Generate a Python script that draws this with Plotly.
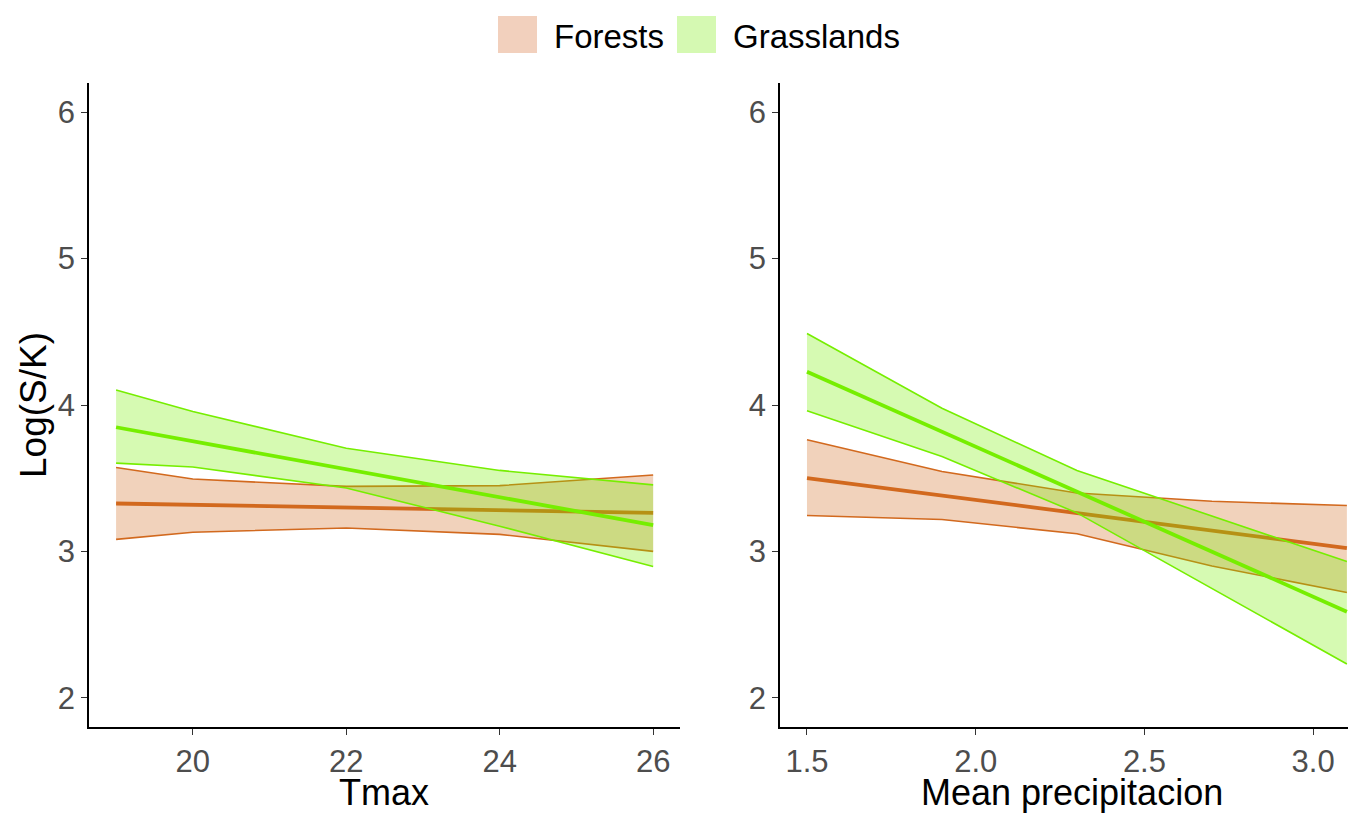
import plotly.graph_objects as go

# ---- data ----
tmax_x = [19, 20, 22, 24, 26]
tmax_forest_mean = [3.327, 3.318, 3.295, 3.279, 3.263]
tmax_forest_lo = [3.082, 3.131, 3.160, 3.116, 3.000]
tmax_forest_hi = [3.573, 3.494, 3.444, 3.449, 3.522]
tmax_grass_mean = [3.848, 3.752, 3.561, 3.370, 3.179]
tmax_grass_lo = [3.603, 3.576, 3.433, 3.172, 2.896]
tmax_grass_hi = [4.102, 3.955, 3.705, 3.553, 3.454]

prec_x = [1.5, 1.9, 2.3, 2.7, 3.1]
prec_forest_mean = [3.501, 3.381, 3.261, 3.142, 3.022]
prec_forest_lo = [3.245, 3.218, 3.120, 2.900, 2.719]
prec_forest_hi = [3.762, 3.546, 3.399, 3.342, 3.313]
prec_grass_mean = [4.227, 3.817, 3.407, 2.998, 2.588]
prec_grass_lo = [3.961, 3.648, 3.263, 2.746, 2.230]
prec_grass_hi = [4.488, 3.978, 3.553, 3.240, 2.930]

groups = ["Forests", "Grasslands"]
line_colors = ["#D2691E", "#76EE00"]
fill_colors = ["rgba(210,105,30,0.3)", "rgba(118,238,0,0.3)"]
fill_solid = ["#F2D0BD", "#D5F9B2"]

yticks = [2, 3, 4, 5, 6]
tmax_ticks = [20, 22, 24, 26]
prec_ticks = [1.5, 2.0, 2.5, 3.0]
prec_ticklabels = ["1.5", "2.0", "2.5", "3.0"]

fig = go.Figure()


def add_group(x, lo, hi, mean, color, fill, xa, ya):
    fig.add_trace(go.Scatter(x=x + x[::-1], y=hi + lo[::-1], fill="toself",
                             fillcolor=fill, line=dict(width=0), mode="lines",
                             hoverinfo="skip", showlegend=False, xaxis=xa, yaxis=ya))
    fig.add_trace(go.Scatter(x=x, y=hi, mode="lines", line=dict(color=color, width=1.6),
                             showlegend=False, xaxis=xa, yaxis=ya))
    fig.add_trace(go.Scatter(x=x, y=lo, mode="lines", line=dict(color=color, width=1.6),
                             showlegend=False, xaxis=xa, yaxis=ya))
    fig.add_trace(go.Scatter(x=x, y=mean, mode="lines", line=dict(color=color, width=3.8),
                             showlegend=False, xaxis=xa, yaxis=ya))


add_group(tmax_x, tmax_forest_lo, tmax_forest_hi, tmax_forest_mean, line_colors[0], fill_colors[0], "x", "y")
add_group(tmax_x, tmax_grass_lo, tmax_grass_hi, tmax_grass_mean, line_colors[1], fill_colors[1], "x", "y")
add_group(prec_x, prec_forest_lo, prec_forest_hi, prec_forest_mean, line_colors[0], fill_colors[0], "x2", "y2")
add_group(prec_x, prec_grass_lo, prec_grass_hi, prec_grass_mean, line_colors[1], fill_colors[1], "x2", "y2")

OFF = 8  # page body margin
W, H = 1356 - OFF, 814 - OFF
L, T = 89 - OFF, 83 - OFF
R, B = 0, 814 - 727
PW, PH = W - L - R, H - T - B


def px(xp):
    return (xp - OFF - L) / PW


def py(yp):
    return (H - B - (yp - OFF)) / PH


tickfont = dict(family="Liberation Sans, Arial, sans-serif", size=31, color="#4D4D4D")
axis_common = dict(showline=True, linecolor="black", linewidth=1.6, ticks="outside",
                   ticklen=6, tickwidth=1.4, tickcolor="#333333", showgrid=False,
                   zeroline=False, tickfont=tickfont)

fig.update_layout(
    width=W, height=H,
    margin=dict(l=L, r=R, t=T, b=B),
    plot_bgcolor="white", paper_bgcolor="white",
    showlegend=False,
    xaxis=dict(domain=[0, px(680)], range=[18.647, 26.35], tickvals=tmax_ticks,
               anchor="y", **axis_common),
    yaxis=dict(domain=[0, 1], range=[1.8, 6.2], tickvals=yticks, anchor="x", **axis_common),
    xaxis2=dict(domain=[px(780), 1], range=[1.42, 3.127], tickvals=prec_ticks,
                ticktext=prec_ticklabels, anchor="y2", **axis_common),
    yaxis2=dict(domain=[0, 1], range=[1.8, 6.2], tickvals=yticks, anchor="x2", **axis_common),
)

titlefont = dict(family="Liberation Sans, Arial, sans-serif", size=36, color="black")
ann = [
    dict(text="Tmax", x=px(384), y=py(792), xref="paper", yref="paper", borderpad=0,
         showarrow=False, font=titlefont, xanchor="center", yanchor="middle"),
    dict(text="Mean precipitacion", x=px(1072), y=py(792), xref="paper", yref="paper",
         borderpad=0, showarrow=False, font=titlefont, xanchor="center", yanchor="middle"),
    dict(text="Log(S/K)", x=px(33), y=py(405), xref="paper", yref="paper", textangle=-90,
         showarrow=False, font=dict(titlefont, size=37), xanchor="center", yanchor="middle"),
]

legfont = dict(family="Liberation Sans, Arial, sans-serif", size=33, color="black")
shapes = []
key_x = [498, 677]
text_x = [552, 731]
for i, g in enumerate(groups):
    shapes.append(dict(type="rect", xref="paper", yref="paper",
                       x0=px(key_x[i]), x1=px(key_x[i] + 39), y0=py(53), y1=py(16),
                       fillcolor=fill_solid[i], line=dict(width=0)))
    ann.append(dict(text=g, x=px(text_x[i]), y=py(36), xref="paper", yref="paper",
                    showarrow=False, font=legfont, xanchor="left", yanchor="middle"))

fig.update_layout(annotations=ann, shapes=shapes)

fig.write_html("out.html")
